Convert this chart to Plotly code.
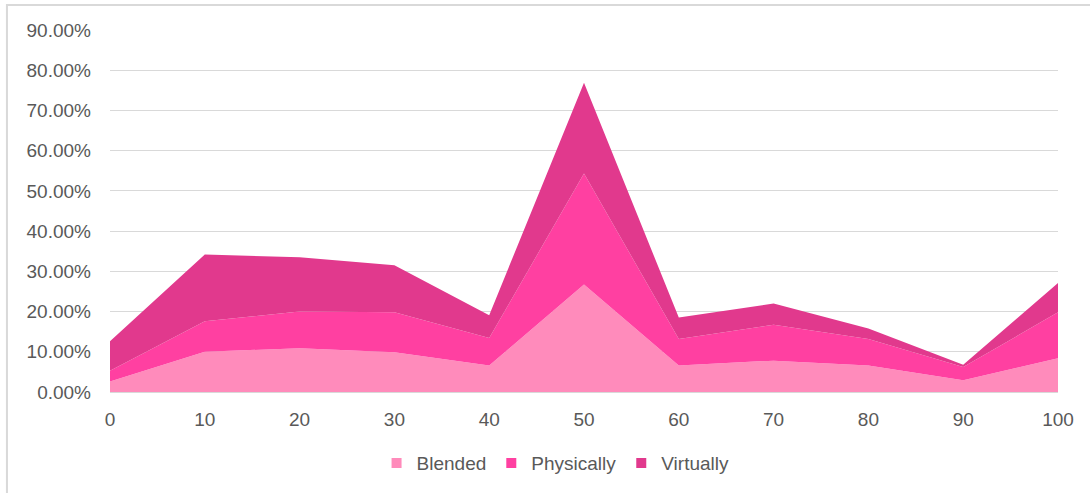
import plotly.graph_objects as go

x_vals = [0, 10, 20, 30, 40, 50, 60, 70, 80, 90, 100]
blended = [0.026, 0.100, 0.109, 0.099, 0.066, 0.267, 0.066, 0.078, 0.066, 0.029, 0.084]
physically = [0.027, 0.076, 0.091, 0.099, 0.068, 0.276, 0.066, 0.089, 0.066, 0.033, 0.114]
virtually = [0.073, 0.166, 0.135, 0.117, 0.057, 0.226, 0.053, 0.053, 0.026, 0.006, 0.073]

series = [
    ("Blended", blended, "#FF8BBB"),
    ("Physically", physically, "#FF40A1"),
    ("Virtually", virtually, "#E1398D"),
]

fig = go.Figure()
for name, vals, col in series:
    fig.add_trace(go.Scatter(
        x=x_vals, y=vals, name=name, mode="lines",
        stackgroup="one", line=dict(width=0, color=col),
        fillcolor=col, showlegend=False, legendgroup=name,
    ))
# legend entries with square swatches
for name, vals, col in series:
    fig.add_trace(go.Scatter(
        x=[None], y=[None], name=name, mode="markers",
        marker=dict(symbol="square", size=10, color=col),
        legendgroup=name, showlegend=True,
    ))

font = dict(family="Liberation Sans, Arial, sans-serif", size=19, color="#595959")

fig.update_layout(
    width=1090, height=493,
    margin=dict(l=110, r=32, t=30, b=100),
    paper_bgcolor="white", plot_bgcolor="white",
    font=font,
    showlegend=True,
    legend=dict(orientation="h", x=0.47, xanchor="center", y=-0.193, yanchor="middle",
                font=font, traceorder="normal", itemwidth=30, tracegroupgap=0),
    xaxis=dict(range=[0, 100], tickvals=x_vals, ticktext=[str(v) for v in x_vals],
               showgrid=False, zeroline=False, showline=True, linecolor="#D9D9D9",
               linewidth=1, ticks="", ticklabelstandoff=10),
    yaxis=dict(range=[0, 0.9], tickvals=[i / 10 for i in range(10)], tickformat=".2%",
               showgrid=True, gridcolor="#D9D9D9", gridwidth=1, zeroline=False,
               showline=False, ticks="", ticklabelstandoff=18),
    shapes=[dict(type="rect", xref="paper", yref="paper",
                 x0=-0.1087, x1=1.1, y0=-0.4, y1=1.0689,
                 line=dict(color="#D9D9D9", width=2), fillcolor="rgba(0,0,0,0)", layer="below")],
)

fig.write_html("out.html")
